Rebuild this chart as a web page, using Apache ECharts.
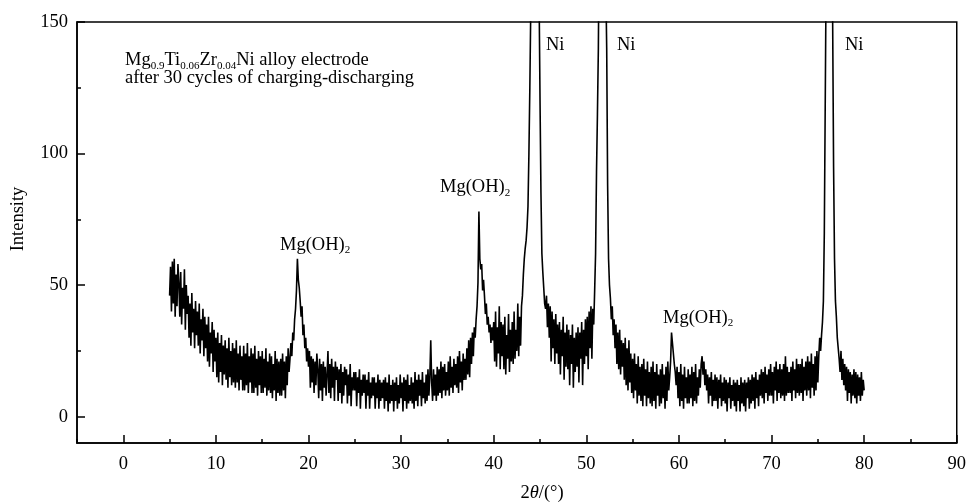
<!DOCTYPE html>
<html>
<head>
<meta charset="utf-8">
<script src="https://cdn.jsdelivr.net/npm/echarts@6/dist/echarts.min.js"></script>
<style>
  html, body { margin: 0; padding: 0; background: #fff; }
  #chart { width: 969px; height: 503px; }
</style>
</head>
<body>
<div id="chart"></div>
<script>
// XRD scan of the cycled electrode: 2θ from 5° to 80° in 0.1° steps
const scanStart = 5.0;
const scanStep = 0.1;

// Intensity counts, one row per degree (10 readings each)
const intensity = [
  46,57,40,59,43,60,38,54,42,58,      // 5
  51,38,55,35,49,41,56,33,50,39,      // 6
  46,30,43,27,47,32,41,26,44,31,      // 7
  40,27,43,24,37,29,41,23,38,26,      // 8
  35,21,38,19,32,24,36,17,33,21,      // 9
  30,15,32,13,28,17,31,12,27,16,      // 10
  29,14,26,11,30,15,25,12,28,13,      // 11
  26,11,29,13,24,10,27,14,23,10,      // 12
  27,10,24,12,28,9,23,13,26,9,        // 13
  24,9,27,11,22,8,25,12,23,9,         // 14
  25,9,22,11,26,8,21,10,24,9,         // 15
  23,7,20,10,25,6,22,9,21,8,          // 16
  22,8,24,10,21,7,23,12,26,17,        // 17
  22,28,23,32,29,37,41,48,60,52,      // 18
  49,44,38,42,31,35,26,30,21,26,      // 19
  19,25,11,23,13,22,9,21,12,24,       // 20
  18,7,22,10,20,6,21,11,19,8,         // 21
  16,25,9,20,7,22,11,19,6,21,         // 22
  14,19,6,18,9,20,5,17,8,19,          // 23
  12,18,5,16,8,20,4,15,10,17,         // 24
  10,17,4,15,9,18,3,14,8,16,          // 25
  9,16,3,14,8,17,3,13,7,15,           // 26
  8,15,3,13,7,16,3,14,6,13,           // 27
  7,14,3,15,6,13,2,16,5,12,           // 28
  6,14,2,13,6,15,3,12,5,16,           // 29
  7,13,2,15,6,14,3,16,5,12,           // 30
  6,15,5,13,3,17,6,14,4,16,           // 31
  8,14,4,17,7,13,5,16,6,18,           // 32
  8,15,29,13,6,18,8,16,6,19,          // 33
  8,18,9,21,7,19,10,20,8,17,          // 34
  10,21,8,23,11,19,9,22,12,20,        // 35
  11,23,9,25,13,21,10,24,14,22,       // 36
  14,26,16,29,15,30,20,32,23,34,      // 37
  30,37,42,51,78,60,56,58,48,52,      // 38
  46,39,43,35,38,32,35,28,34,29,      // 39
  36,21,40,19,34,24,42,18,36,23,      // 40
  35,18,38,16,31,22,39,17,33,21,      // 41
  36,20,40,22,33,25,43,23,38,27,      // 42
  42,46,54,60,64,67,72,80,100,125,    // 43
  155,210,300,420,520,560,480,360,240,160, // 44
  120,85,62,55,49,43,41,46,34,43,     // 45
  30,42,21,40,26,37,20,39,24,35,      // 46
  20,36,16,33,23,38,14,32,19,35,      // 47
  18,33,12,31,20,35,11,30,17,32,      // 48
  19,34,13,32,22,36,12,33,20,37,      // 49
  23,38,18,40,26,42,22,41,35,48,      // 50
  62,93,115,140,190,300,420,480,400,280, // 51
  200,165,140,88,60,50,45,37,42,31,   // 52
  37,26,35,20,32,18,33,16,29,19,      // 53
  28,14,30,12,26,10,29,13,24,9,       // 54
  22,7,24,10,20,5,23,8,19,6,          // 55
  20,4,22,8,18,4,21,7,17,5,           // 56
  19,4,21,6,17,3,20,8,16,4,           // 57
  18,5,20,7,16,3,19,6,21,10,          // 58
  15,21,32,28,24,20,17,12,19,7,       // 59
  17,4,20,6,16,3,19,7,15,5,           // 60
  18,5,16,7,19,4,17,6,20,5,           // 61
  15,8,18,11,20,23,16,21,12,18,       // 62
  10,16,5,15,8,17,4,14,6,16,          // 63
  6,15,3,14,7,16,4,13,6,15,           // 64
  5,14,2,13,7,15,3,12,6,14,           // 65
  4,13,2,14,6,12,2,15,5,13,           // 66
  4,14,2,13,7,15,3,14,5,16,           // 67
  6,15,3,17,7,14,4,16,8,18,           // 68
  7,17,5,19,9,16,6,18,8,20,           // 69
  8,17,5,19,10,21,6,18,9,20,          // 70
  7,18,8,20,6,23,8,19,9,17,           // 71
  9,19,6,21,10,18,7,22,9,20,          // 72
  8,20,9,22,6,19,10,21,8,23,          // 73
  10,21,7,24,11,20,8,23,10,25,        // 74
  13,23,30,25,31,36,44,70,120,170,    // 75
  250,380,480,430,300,200,150,95,60,44, // 76
  38,30,26,22,17,25,14,22,12,20,      // 77
  10,19,6,18,9,17,5,16,8,18,          // 78
  7,17,5,16,8,15,6,17,8,14,           // 79
  10                                  // 80
];

// Axis ticks
const xMajorTicks = [0, 10, 20, 30, 40, 50, 60, 70, 80, 90];
const xMinorTicks = [-5, 5, 15, 25, 35, 45, 55, 65, 75, 85];
const yMajorTicks = [0, 50, 100, 150];
const yMinorTicks = [25, 75, 125];

// Annotation texts
const sampleLine1 = [['Mg', 0], ['0.9', 1], ['Ti', 0], ['0.06', 1], ['Zr', 0], ['0.04', 1], ['Ni alloy electrode', 0]];
const sampleLine2 = [['after 30 cycles of charging-discharging', 0]];
const hydroxideLabel = [['Mg(OH)', 0], ['2', 1]];
const nickelLabel = [['Ni', 0]];

const FONT = '"Liberation Serif", "Times New Roman", serif';
const MAIN_SIZE = 18.5;
const SUB_SIZE = 11;

const points = intensity.map((v, i) => [+(scanStart + i * scanStep).toFixed(1), v]);

const measureCtx = document.createElement('canvas').getContext('2d');
function textWidth(str, size, style) {
  measureCtx.font = (style ? style + ' ' : '') + size + 'px ' + FONT;
  return measureCtx.measureText(str).width;
}

// Lay out a run of normal / subscript pieces starting at (x, baseline)
function textRun(parts, x, baseline) {
  const els = [];
  let cx = x;
  parts.forEach(([t, sub]) => {
    const size = sub ? SUB_SIZE : MAIN_SIZE;
    const base = sub ? baseline + 3 : baseline;
    els.push({
      type: 'text', silent: true,
      x: cx, y: base - 0.34 * size,
      style: {
        text: t, font: size + 'px ' + FONT, fill: '#000',
        textAlign: 'left', textVerticalAlign: 'middle',
        align: 'left', verticalAlign: 'middle'
      }
    });
    cx += textWidth(t, size);
  });
  return els;
}

const graphics = [].concat(
  textRun(sampleLine1, 125, 66.5),
  textRun(sampleLine2, 125, 84.5),
  textRun(hydroxideLabel, 280, 251),
  textRun(hydroxideLabel, 440, 193.5),
  textRun(hydroxideLabel, 663, 324),
  textRun(nickelLabel, 546, 51),
  textRun(nickelLabel, 617, 51.5),
  textRun(nickelLabel, 845, 51.5)
);

// x-axis title: 2θ/(°) with italic theta
(function () {
  const pieces = [['2', ''], ['θ', 'italic'], ['/(°)', '']];
  const total = pieces.reduce((s, p) => s + textWidth(p[0], MAIN_SIZE, p[1]), 0);
  let cx = 542 - total / 2;
  pieces.forEach(([t, st]) => {
    graphics.push({
      type: 'text', silent: true,
      x: cx, y: 499 - 0.34 * MAIN_SIZE,
      style: {
        text: t, font: (st ? st + ' ' : '') + MAIN_SIZE + 'px ' + FONT, fill: '#000',
        textAlign: 'left', textVerticalAlign: 'middle',
        align: 'left', verticalAlign: 'middle'
      }
    });
    cx += textWidth(t, MAIN_SIZE, st);
  });
})();

// y-axis title
graphics.push({
  type: 'text', silent: true,
  x: 18, y: 219, rotation: Math.PI / 2,
  style: {
    text: 'Intensity', font: MAIN_SIZE + 'px ' + FONT, fill: '#000',
    textAlign: 'center', textVerticalAlign: 'middle',
    align: 'center', verticalAlign: 'middle'
  }
});

const axisFont = { fontFamily: FONT, fontSize: MAIN_SIZE, color: '#000' };

const chart = echarts.init(document.getElementById('chart'), null, { renderer: 'canvas' });
chart.setOption({
  animation: false,
  backgroundColor: '#fff',
  grid: {
    left: 77, right: 10, top: 22, bottom: 60,
    show: true, borderColor: '#000', borderWidth: 1.5, backgroundColor: 'transparent'
  },
  xAxis: [
    {
      type: 'value', min: -5, max: 90, position: 'bottom',
      axisLine: { show: true, onZero: false, lineStyle: { color: '#000', width: 1.5 } },
      axisTick: { show: true, inside: true, length: 8, customValues: xMajorTicks, lineStyle: { color: '#000', width: 1.5 } },
      axisLabel: Object.assign({ show: true, margin: 12, customValues: xMajorTicks }, axisFont),
      splitLine: { show: false }
    },
    {
      type: 'value', min: -5, max: 90, position: 'bottom', gridIndex: 0,
      axisLine: { show: false, onZero: false },
      axisTick: { show: true, inside: true, length: 4, customValues: xMinorTicks, lineStyle: { color: '#000', width: 1.5 } },
      axisLabel: { show: false },
      splitLine: { show: false }
    }
  ],
  yAxis: [
    {
      type: 'value', min: -10, max: 150, position: 'left',
      axisLine: { show: true, onZero: false, lineStyle: { color: '#000', width: 1.5 } },
      axisTick: { show: true, inside: true, length: 8, customValues: yMajorTicks, lineStyle: { color: '#000', width: 1.5 } },
      axisLabel: Object.assign({ show: true, margin: 9, customValues: yMajorTicks }, axisFont),
      splitLine: { show: false }
    },
    {
      type: 'value', min: -10, max: 150, position: 'left', gridIndex: 0,
      axisLine: { show: false, onZero: false },
      axisTick: { show: true, inside: true, length: 4, customValues: yMinorTicks, lineStyle: { color: '#000', width: 1.5 } },
      axisLabel: { show: false },
      splitLine: { show: false }
    }
  ],
  series: [
    {
      type: 'line',
      xAxisIndex: 0, yAxisIndex: 0,
      data: points,
      showSymbol: false,
      symbol: 'none',
      clip: true,
      lineStyle: { color: '#000', width: 1.6, join: 'miter', miterLimit: 2 },
      emphasis: { disabled: true }
    }
  ],
  graphic: { elements: graphics }
});
</script>
</body>
</html>
